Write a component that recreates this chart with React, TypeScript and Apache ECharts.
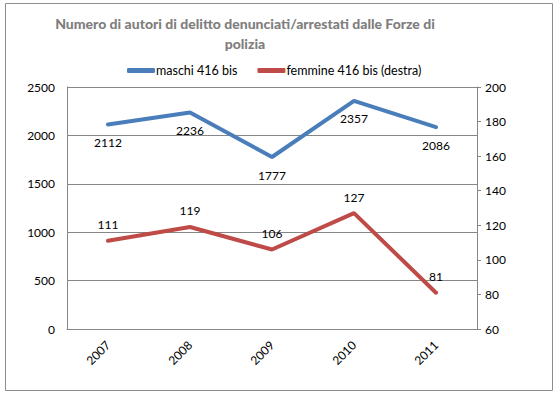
import React, { useEffect, useRef } from "react";
import * as echarts from "echarts";

const years = ["2007", "2008", "2009", "2010", "2011"];
const maschi = [2112, 2236, 1777, 2357, 2086];
const femmine = [111, 119, 106, 127, 81];
const titleText = "Numero di autori di delitto denunciati/arrestati dalle Forze di\npolizia";
const seriesNames = ["maschi 416 bis", "femmine 416 bis (destra)"];

const FONT = "Lato";

export default function App() {
  const ref = useRef<HTMLDivElement>(null);
  useEffect(() => {
    document.body.style.margin = "0";
    const chart = echarts.init(ref.current!, null, { renderer: "svg" });
    chart.setOption({
      animation: false,
      backgroundColor: "#ffffff",
      textStyle: { fontFamily: FONT },
      graphic: [
        {
          type: "rect",
          shape: { x: 5.5, y: 3.5, width: 547, height: 387 },
          style: { fill: "none", stroke: "#8c8c8c", lineWidth: 1 },
          silent: true,
        },
      ],
      title: {
        text: titleText,
        left: 240,
        top: 8,
        textAlign: "center",
        textStyle: {
          fontFamily: FONT,
          fontSize: 14,
          fontWeight: 900,
          color: "#7f7f7f",
          lineHeight: 20,
        },
      },
      legend: {
        top: 59,
        left: 122,
        itemWidth: 28,
        itemHeight: 5,
        itemGap: 20,
        icon: "roundRect",
        textStyle: { fontFamily: FONT, fontSize: 12.5, color: "#000", padding: [0, 0, 0, -4] },
        data: seriesNames,
      },
      grid: { left: 67, right: 83, top: 87, bottom: 70, containLabel: false },
      xAxis: {
        type: "category",
        data: years,
        axisLine: { lineStyle: { color: "#868686" } },
        axisTick: { show: false },
        axisLabel: { rotate: 45, margin: 14, fontFamily: FONT, fontSize: 12, color: "#000" },
      },
      yAxis: [
        {
          type: "value",
          min: 0,
          max: 2500,
          interval: 500,
          axisLine: { show: true, lineStyle: { color: "#868686" } },
          axisTick: { show: false },
          splitLine: { lineStyle: { color: "#868686" } },
          axisLabel: {
            margin: 12,
            fontFamily: FONT,
            fontSize: 12,
            color: "#000",
            formatter: (v: number) => String(v),
          },
        },
        {
          type: "value",
          min: 60,
          max: 200,
          interval: 20,
          position: "right",
          axisLine: { show: true, lineStyle: { color: "#868686" } },
          axisTick: { show: true, length: 4, lineStyle: { color: "#868686" } },
          splitLine: { show: false },
          axisLabel: {
            margin: 8,
            fontFamily: FONT,
            fontSize: 12,
            color: "#000",
            formatter: (v: number) => String(v),
          },
        },
      ],
      series: [
        {
          name: seriesNames[0],
          type: "line",
          data: maschi,
          yAxisIndex: 0,
          color: "#4a7ebb",
          lineStyle: { width: 4, color: "#4a7ebb", cap: "round" },
          showSymbol: true,
          symbol: "circle",
          symbolSize: 0.1,
          label: {
            show: true,
            position: "bottom",
            distance: 12,
            fontFamily: FONT,
            fontSize: 12,
            color: "#000",
          },
        },
        {
          name: seriesNames[1],
          type: "line",
          data: femmine,
          yAxisIndex: 1,
          color: "#be4b48",
          lineStyle: { width: 4, color: "#be4b48", cap: "round" },
          showSymbol: true,
          symbol: "circle",
          symbolSize: 0.1,
          label: {
            show: true,
            position: "top",
            distance: 10,
            fontFamily: FONT,
            fontSize: 12,
            color: "#000",
          },
        },
      ],
    });
    return () => chart.dispose();
  }, []);
  return <div ref={ref} style={{ width: 560, height: 399 }} />;
}
